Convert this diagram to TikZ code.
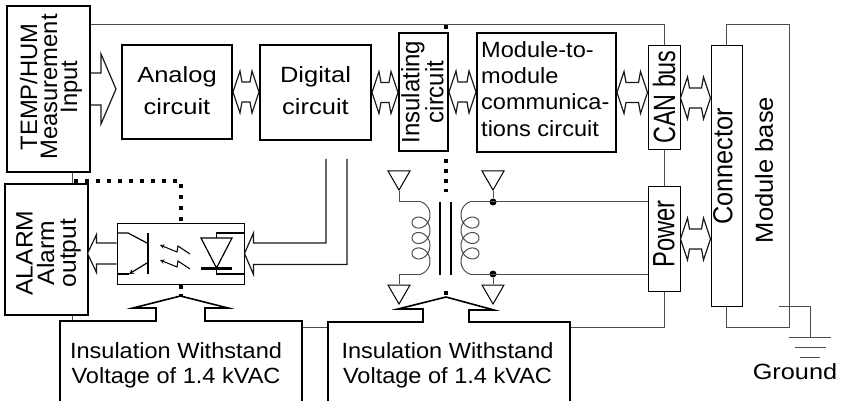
\documentclass[tikz,border=0pt]{standalone}
\usepackage{fontspec}
\setmainfont{Liberation Sans}
\usetikzlibrary{arrows}
\usetikzlibrary{calc}
\usetikzlibrary{shapes.geometric}
\tikzset{blockbox/.style = {draw, line width = 2pt, inner sep = 0}}
\tikzset{thinblock/.style = {draw, line width = 1pt, inner sep = 0}}
\tikzset{txt/.style = {inner sep = 0, align = center, font = \fontsize{22}{26}\selectfont}}
\tikzset{wire/.style = {line width = 1pt, black!70}}
\tikzset{fatarrow/.style = {line width = 1.2pt, draw = black!90, fill = white}}
\tikzset{isoline/.style = {line width = 4pt, dash pattern = on 4pt off 7pt}}
\tikzset{junction/.style = {fill, circle, inner sep = 0, minimum size = 7}}
\tikzset{term/.style = {draw, line width = 1pt, regular polygon, regular polygon sides = 3, shape border rotate = 180, inner sep = 0, minimum size = 25.4}}
\lineskiplimit=-100pt
\newcommand{\dualarrow}[2]{%
  \draw [fatarrow] (#1) -- ++(7, -21) -- ++(2, 11) -- ($(#2) + (-9, -10)$) -- ++(2, -11) -- (#2) -- ++(-7, 21) -- ++(-2, -11) -- ($(#1) + (9, 10)$) -- ++(-2, 11) -- cycle;}

\begin{document}
\begin{tikzpicture}[x = 1pt, y = -1pt]
    \useasboundingbox (0, 0) rectangle (844, 401);
    \clip (0, 0) rectangle (844, 401);

    % isolation barriers
    \draw [isoline] (74, 181) -| (180.5, 223);
    \draw [isoline, dash pattern = on 4pt off 6pt] (446, 25) -- (446, 30);
    \draw [isoline, dash pattern = on 4pt off 6pt] (446, 159) -- (446, 192);
    \fill (444, 291) rectangle (448, 295);
    \draw [isoline, dash pattern = on 4pt off 5pt] (180.5, 285) -- (180.5, 297);
    \coordinate (barrier) at (446, 297);

    % blocks
    \node [blockbox, minimum width = 83, minimum height = 166] (temp) at (48.5, 89) {};
    \node [blockbox, minimum width = 83, minimum height = 131] (alarm) at (46.5, 249.5) {};
    \node [blockbox, minimum width = 110, minimum height = 94] (analog) at (177, 92) {};
    \node [blockbox, minimum width = 111, minimum height = 95] (digital) at (315.5, 92.5) {};
    \node [blockbox, fill = white, minimum width = 49, minimum height = 118] (insul) at (423.5, 92) {};
    \node [blockbox, minimum width = 139, minimum height = 119] (modcomm) at (546.5, 92.5) {};
    \node [thinblock, minimum width = 32, minimum height = 104] (can) at (664, 98) {};
    \node [thinblock, minimum width = 32, minimum height = 104] (power) at (664, 239) {};
    \node [thinblock, minimum width = 31, minimum height = 260] (conn) at (726.5, 176) {};
    \node [thinblock, minimum width = 127, minimum height = 61] (opto) at (180.5, 253.5) {};
    \node [blockbox, minimum width = 242, minimum height = 120] (box1) at (181, 381) {};
    \node [blockbox, minimum width = 242, minimum height = 120] (box2) at (449, 382) {};

    % labels
    \node [txt, rotate = 90, xscale = 1.08, yscale = 1.08, font = \fontsize{22}{18.5}\selectfont] (templabel) at (51, 87) {TEMP/HUM\\Measurement\\Input};
    \node [txt, rotate = 90, xscale = 1.12, yscale = 1.08, font = \fontsize{22}{20}\selectfont] (alarmlabel) at (48.5, 253) {ALARM\\Alarm\\output};
    \node [txt, xscale = 1.16, font = \fontsize{22}{32}\selectfont] (analoglabel) at (177, 90.6) {Analog\\circuit};
    \node [txt, xscale = 1.16, font = \fontsize{22}{32}\selectfont] (digitallabel) at (315.5, 90.6) {Digital\\circuit};
    \node [txt, rotate = 90, xscale = 1.09, yscale = 1.14, font = \fontsize{22}{21}\selectfont] (insullabel) at (422.5, 92) {Insulating\\circuit};
    \node [txt, align = left, anchor = north west, xscale = 1.07, font = \fontsize{22}{26.3}\selectfont] (modlabel) at (481, 41) {Module-to-\\module\\communica-\\tions circuit};
    \node [txt, rotate = 90, xscale = 1.06, yscale = 1.4] (canlabel) at (664, 97) {CAN bus};
    \node [txt, rotate = 90, xscale = 1.08, yscale = 1.4] (powerlabel) at (664, 234) {Power};
    \node [txt, rotate = 90, xscale = 1.15, yscale = 1.25] (connlabel) at (723, 166.5) {Connector};
    \node [txt, rotate = 90, xscale = 1.16, yscale = 1.12] (baselabel) at (764, 170) {Module base};
    \node [txt, xscale = 1.07, font = \fontsize{22}{25}\selectfont] (ins1label) at (176, 365) {Insulation Withstand\\Voltage of 1.4 kVAC};
    \node [txt, xscale = 1.07, font = \fontsize{22}{25}\selectfont] (ins2label) at (447.5, 365) {Insulation Withstand\\Voltage of 1.4 kVAC};
    \node [txt, xscale = 1.15] (gndlabel) at (795, 372) {Ground};

    % frame lines
    \draw [wire] (temp.east |- 0, 25) -- (can.north |- 0, 25) -- (can.north);
    \draw [wire] (can.south) -- (power.north);
    \draw [wire] (power.south) |- (box2.east |- 0, 327);
    \draw [wire] (box1.east |- 0, 327) -- (box2.west |- 0, 327);
    \draw [wire] (temp.south -| 72, 0) -- (alarm.north -| 72, 0);
    \draw [wire] (alarm.south -| 72, 0) -- (box1.north -| 72, 0);
    \draw [wire] (conn.north) |- (789, 25) |- (conn.south |- 0, 327) -- (conn.south);

    % ground
    \coordinate (gnd) at (810, 337);
    \draw [wire] (779, 306) -| (gnd);
    \draw [wire] ($(gnd) + (-21, 0)$) -- ++(42, 0);
    \draw [wire] ($(gnd) + (-15.5, 10.5)$) -- ++(31, 0);
    \draw [wire] ($(gnd) + (-10, 20.5)$) -- ++(20, 0);

    % fat arrows
    \draw [fatarrow] (temp.east) ++(0, -16) -- ++(10, 0) -- ++(0, -19) -- ++(15, 35) -- ++(-15, 35) -- ++(0, -19) -- ++(-10, 0);
    \dualarrow{analog.east}{analog.east -| digital.west}
    \dualarrow{digital.east}{digital.east -| insul.west}
    \dualarrow{insul.east}{insul.east -| modcomm.west}
    \dualarrow{modcomm.east}{modcomm.east -| can.west}
    \dualarrow{can.east}{can.east -| conn.west}
    \dualarrow{power.east}{power.east -| conn.west}
    \draw [fatarrow] (opto.west) ++(0, -10.5) -- ++(-20, 0) -- ++(0, -8.5) -- ++(-9, 19) -- ++(9, 19) -- ++(0, -8.5) -- ++(20, 0);
    \coordinate (dA) at (326, 159);
    \coordinate (dB) at (347, 159);
    \draw [fatarrow, fill = none] (dA) |- ($(opto.east) + (9, -10.5)$) -- ++(0, -10) -- (opto.east) -- ++(9, 21) -- ++(0, -10) -| (dB);

    \fill [white] ($(opto.south |- box1.north) + (-23.5, -2)$) rectangle ($(opto.south |- box1.north) + (23.5, 2)$);
    \draw [fatarrow, line width = 1.6pt, draw = black, fill = none] ($(opto.south |- box1.north) + (-24.5, 0)$) -- ++(0, -12) -- ++(-23, 0) -- ++(47.5, -12) -- ++(47.5, 12) -- ++(-23, 0) -- ++(0, 12);
    \fill [white] ($(barrier |- box2.north) + (-22, -2)$) rectangle ($(barrier |- box2.north) + (22, 2)$);
    \draw [fatarrow, line width = 1.6pt, draw = black, fill = none] ($(barrier |- box2.north) + (-23, 0)$) -- ++(0, -12) -- ++(-25, 0) -- (barrier) -- ++(48, 13) -- ++(-25, 0) -- ++(0, 12);

    % optocoupler
    \draw [line width = 1.2pt] (117, 233) -- (128, 233) -- (147, 243);
    \draw [line width = 2pt] (148, 233) -- (148, 274);
    \draw [line width = 1.2pt] (117, 274) -- (129, 274);
    \draw [line width = 1.2pt, -stealth] (147, 263) -- (129, 274);
    \draw [line width = 1pt, -stealth] (190, 254) -- (178, 246) -- (177, 252) -- (160, 245);
    \draw [line width = 1pt, -stealth] (190, 269) -- (178, 261) -- (177, 267) -- (160, 260);
    \draw [line width = 1.2pt] (201, 238) -- (232, 238) -- (216.5, 268) -- cycle;
    \draw [line width = 3pt] (201, 268) -- (232, 268);
    \draw [line width = 1.2pt] (216.5, 238) -- (216.5, 233) -- (244, 233);
    \draw [line width = 1.2pt] (216.5, 268) -- (216.5, 274) -- (244, 274);

    % transformer
    \node [term] (tl) at (399, 177.35) {};
    \node [term] (bl) at (399, 291.35) {};
    \node [term] (tr) at (493, 177.35) {};
    \node [term] (br) at (493, 291.35) {};
    \node [junction] (jtop) at (493, 202) {};
    \node [junction] (jbot) at (493, 274) {};
    \draw [wire] (tl.corner 1) |- (421, 202);
    \draw [wire] (421, 274) -| (bl.north);
    \draw [wire] (tr.corner 1) -- (jtop);
    \draw [wire] (jbot) -- (br.north);
    \draw [wire] (470, 202) -- (power.west |- jtop);
    \draw [wire] (470, 274) -- (power.west |- jbot);
    \draw [wire] plot [domain = -90:1170, samples = 160, smooth, variable = \t] ({421 + 9*cos(\t)}, {202 + 2.456*(rad(\t) + 1.5708) + 9*(sin(\t) + 1)});
    \draw [wire] plot [domain = -90:1170, samples = 160, smooth, variable = \t] ({470 - 9*cos(\t)}, {202 + 2.456*(rad(\t) + 1.5708) + 9*(sin(\t) + 1)});
    \draw [line width = 1.2pt] (440, 202) -- (440, 275);
    \draw [line width = 1.2pt] (451, 202) -- (451, 275);
\end{tikzpicture}
\end{document}
